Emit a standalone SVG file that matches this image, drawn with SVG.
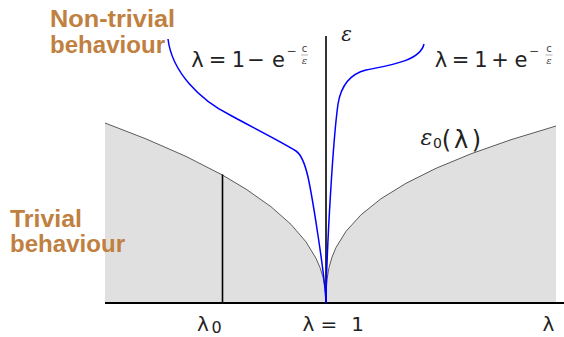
<svg xmlns="http://www.w3.org/2000/svg" width="564" height="337" viewBox="0 0 564 337">
<style>
.region{fill:#e0e0e0;stroke:none}
.bound{fill:none;stroke:#333;stroke-width:0.8}
.axis{stroke:#000;stroke-width:1.6;fill:none}
.blue{fill:none;stroke:#0000ff;stroke-width:1.5}
.lbl{font-family:"Liberation Sans",Arial,sans-serif;font-weight:bold;font-size:23px;fill:#c0803f}
.math{font-family:"DejaVu Sans",sans-serif;fill:#222;text-anchor:middle}
.sup{font-family:"DejaVu Sans",sans-serif;fill:#444;text-anchor:middle}
.eps{font-family:"DejaVu Serif","Liberation Serif",serif;font-style:italic;fill:#222;text-anchor:middle}
</style>
<g id="regions">
<path class="region" d="M105,303 L105,123 L146,138.9 L186,156.4 L222,174.8 L246,189.1 L271,206.7 L291,224.4 L306,241.9 L316,258.3 L320,267.5 L323,277 L325,287.1 L325.7,293.8 L326,303 Z"/>
<path class="region" d="M326,303 L326.3,287.8 L327,279.3 L329,267.5 L332,257.1 L336,247.5 L346,231.3 L361,214.8 L381,198.7 L406,183.3 L436,168.3 L471,153.8 L511,139.7 L556,126 L556,303 Z"/>
</g>
<g id="connectors">
<polyline class="bound" points="105,123 146,138.9 186,156.4 222,174.8 246,189.1 271,206.7 291,224.4 306,241.9 316,258.3 320,267.5 323,277 325,287.1 325.7,293.8 326,303"/>
<polyline class="bound" points="326,303 326.3,287.8 327,279.3 329,267.5 332,257.1 336,247.5 346,231.3 361,214.8 381,198.7 406,183.3 436,168.3 471,153.8 511,139.7 556,126"/>
<line class="axis" x1="222.5" y1="174.5" x2="222.5" y2="303"/>
<line class="axis" x1="326" y1="36" x2="326" y2="303"/>
<line class="axis" x1="105" y1="303" x2="564" y2="303" style="stroke-width:2"/>
<path class="blue" d="M168,39 C172,72 200,100 230,115 C248,125 282,142 296,151 C302,155 305,164 308,177 C312,195 325,275 326,303"/>
<path class="blue" d="M326,303 C326.5,250 333,140 338,104 C341,86 350,74 366,70 C385,66 420,62 424,44"/>
</g>
<g id="label-nontrivial">
<text class="lbl" x="50" y="27" textLength="125" lengthAdjust="spacingAndGlyphs">Non-trivial</text>
<text class="lbl" x="50" y="53" textLength="115" lengthAdjust="spacingAndGlyphs">behaviour</text>
</g>
<g id="label-trivial">
<text class="lbl" x="10" y="227" textLength="72" lengthAdjust="spacingAndGlyphs">Trivial</text>
<text class="lbl" x="10" y="252" textLength="115" lengthAdjust="spacingAndGlyphs">behaviour</text>
</g>
<g id="label-epsilon-axis">
<text class="eps" x="346.5" y="41" style="font-size:20px">ε</text>
</g>
<g id="label-minus">
<text class="math" x="197.5 217.5 238.5 256 278.5" y="67" style="font-size:21px">λ=1−e</text>
<text class="sup" x="291.5" y="55" style="font-size:12px">−</text>
<text class="sup" x="304.5" y="52" style="font-size:10px">c</text>
<line x1="301" y1="55" x2="308" y2="55" stroke="#666" stroke-width="0.5"/>
<text class="eps" x="304.5" y="64" style="font-size:10px;fill:#444">ε</text>
</g>
<g id="label-plus">
<text class="math" x="441 460.5 481 500 521" y="67" style="font-size:21px">λ=1+e</text>
<text class="sup" x="534" y="55" style="font-size:12px">−</text>
<text class="sup" x="549" y="52" style="font-size:10px">c</text>
<line x1="545.5" y1="55" x2="552.5" y2="55" stroke="#666" stroke-width="0.5"/>
<text class="eps" x="549" y="64" style="font-size:10px;fill:#444">ε</text>
</g>
<g id="label-eps0">
<text class="eps" x="426.5" y="145" style="font-size:22px">ε</text>
<text class="math" x="437.5" y="148" style="font-size:14px">0</text>
<text class="math" x="446.5 461 476.5" y="148" style="font-size:24px">(λ)</text>
</g>
<g id="label-lambda0">
<text class="math" x="203" y="331" style="font-size:20px">λ</text>
<text class="math" x="216.5" y="333" style="font-size:16px">0</text>
</g>
<g id="label-lambda1">
<text class="math" x="308.3 329 357.5" y="331" style="font-size:20px">λ=1</text>
</g>
<g id="label-lambda">
<text class="math" x="548.3" y="331" style="font-size:20px">λ</text>
</g>
</svg>
